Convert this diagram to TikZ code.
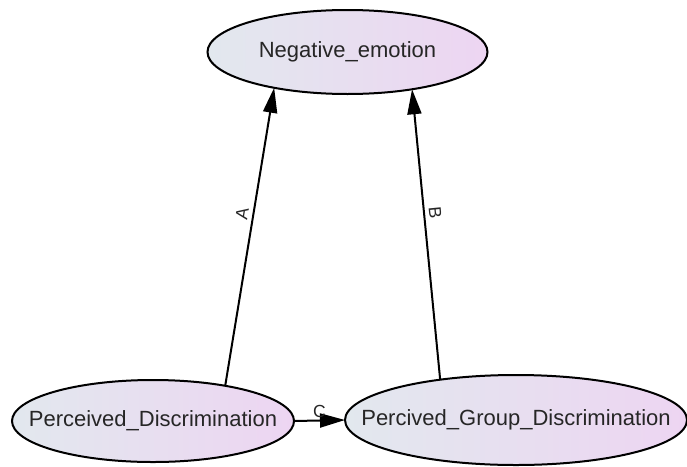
\documentclass[tikz,border=0pt]{standalone}
\usepackage{fontspec}
\setmainfont{Liberation Sans}
\usetikzlibrary{shapes.geometric,arrows.meta}

\definecolor{fillL}{RGB}{226,232,238}
\definecolor{fillR}{RGB}{237,213,242}

\tikzset{
  var/.style={ellipse, draw=black, line width=2pt, inner sep=0pt,
    outer sep=0pt, left color=fillL, right color=fillR},
  vtext/.style={font=\fontsize{22}{26}\selectfont, text=black!85},
  path/.style={line width=2pt, -{Triangle[length=25pt,width=14pt]}},
  plab/.style={font=\fontsize{17.5}{20}\selectfont, inner sep=4pt, text=black!85}
}

\begin{document}
\begin{tikzpicture}[x=1pt,y=-1pt]
  \useasboundingbox (0,0) rectangle (687,466);

  % the ellipse is sized by hand, its text sits at its centre
  \node[var, minimum width=280pt, minimum height=84pt,
        label={[vtext]center:Negative\_emotion}] (ne) at (347.5,52) {};
  \node[var, minimum width=282pt, minimum height=82pt,
        label={[vtext]center:Perceived\_Discrimination}] (pd) at (153,421) {};
  \node[var, minimum width=342pt, minimum height=90pt,
        label={[vtext]center:Percived\_Group\_Discrimination}] (pgd) at (516,420) {};

  \draw[path] (pd.26) -- node[plab, pos=0.57, sloped, above] {A} (ne.206);
  \draw[path] (pgd.152) -- node[plab, pos=0.57, sloped, above] {B} (ne.330);
  \draw[path] (pd.east) -- node[plab, midway, above, inner sep=2pt] {C} (pgd.west);
\end{tikzpicture}
\end{document}
